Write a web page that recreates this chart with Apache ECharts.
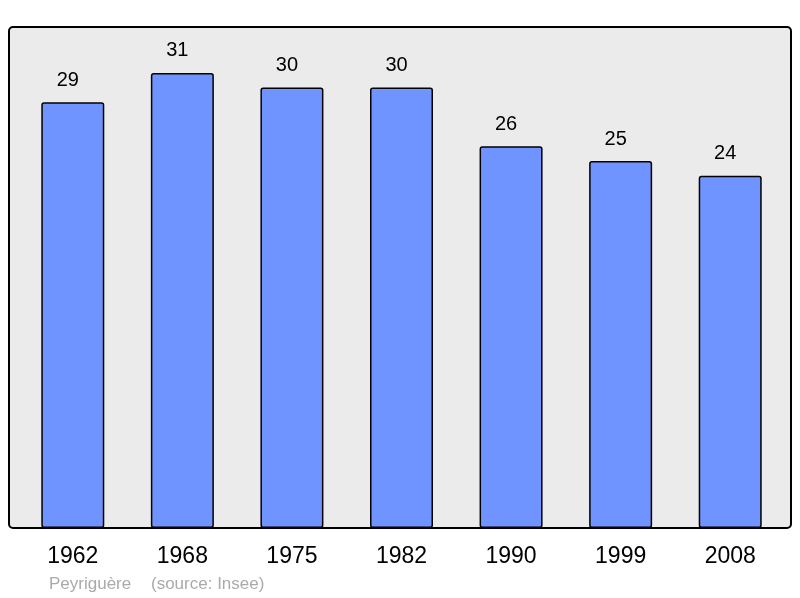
<!DOCTYPE html>
<html>
<head>
<meta charset="utf-8">
<script src="https://cdn.jsdelivr.net/npm/echarts@6/dist/echarts.min.js"></script>
<style>
  html, body { margin: 0; padding: 0; background: #fff; }
  #chart { width: 800px; height: 598px; }
</style>
</head>
<body>
<div id="chart"></div>
<script>
// années de recensement
var years = ['1962', '1968', '1975', '1982', '1990', '1999', '2008'];
// population
var population = [29, 31, 30, 30, 26, 25, 24];

var font = '"Liberation Sans", Arial, sans-serif';

var option = {
  animation: false,
  textStyle: { fontFamily: font },
  graphic: [
    {
      type: 'rect',
      z: -10,
      shape: { x: 9, y: 27, width: 782, height: 501, r: 4 },
      style: { fill: '#ebebeb', stroke: '#000', lineWidth: 2 }
    },
    {
      type: 'text',
      left: 49,
      top: 576,
      style: { text: 'Peyriguère', fill: '#aaaaaa', font: '17px ' + font }
    },
    {
      type: 'text',
      left: 151,
      top: 576,
      style: { text: '(source: Insee)', fill: '#aaaaaa', font: '17px ' + font }
    }
  ],
  grid: { left: 18, right: 15, top: 27, bottom: 70 },
  xAxis: {
    type: 'category',
    data: years,
    axisLine: { show: false },
    axisTick: { show: false },
    axisLabel: { color: '#000', fontSize: 23, margin: 17 }
  },
  yAxis: {
    type: 'value',
    min: 0,
    max: 34.13,
    show: false,
    splitLine: { show: false }
  },
  series: [{
    type: 'bar',
    data: population,
    barWidth: 63,
    itemStyle: {
      color: '#7094ff',
      borderColor: '#000',
      borderWidth: 1.5,
      borderRadius: 2
    },
    label: {
      show: true,
      position: 'top',
      distance: 12,
      offset: [-5, 0],
      color: '#000',
      fontSize: 20
    }
  }]
};

echarts.init(document.getElementById('chart')).setOption(option);
</script>
</body>
</html>
